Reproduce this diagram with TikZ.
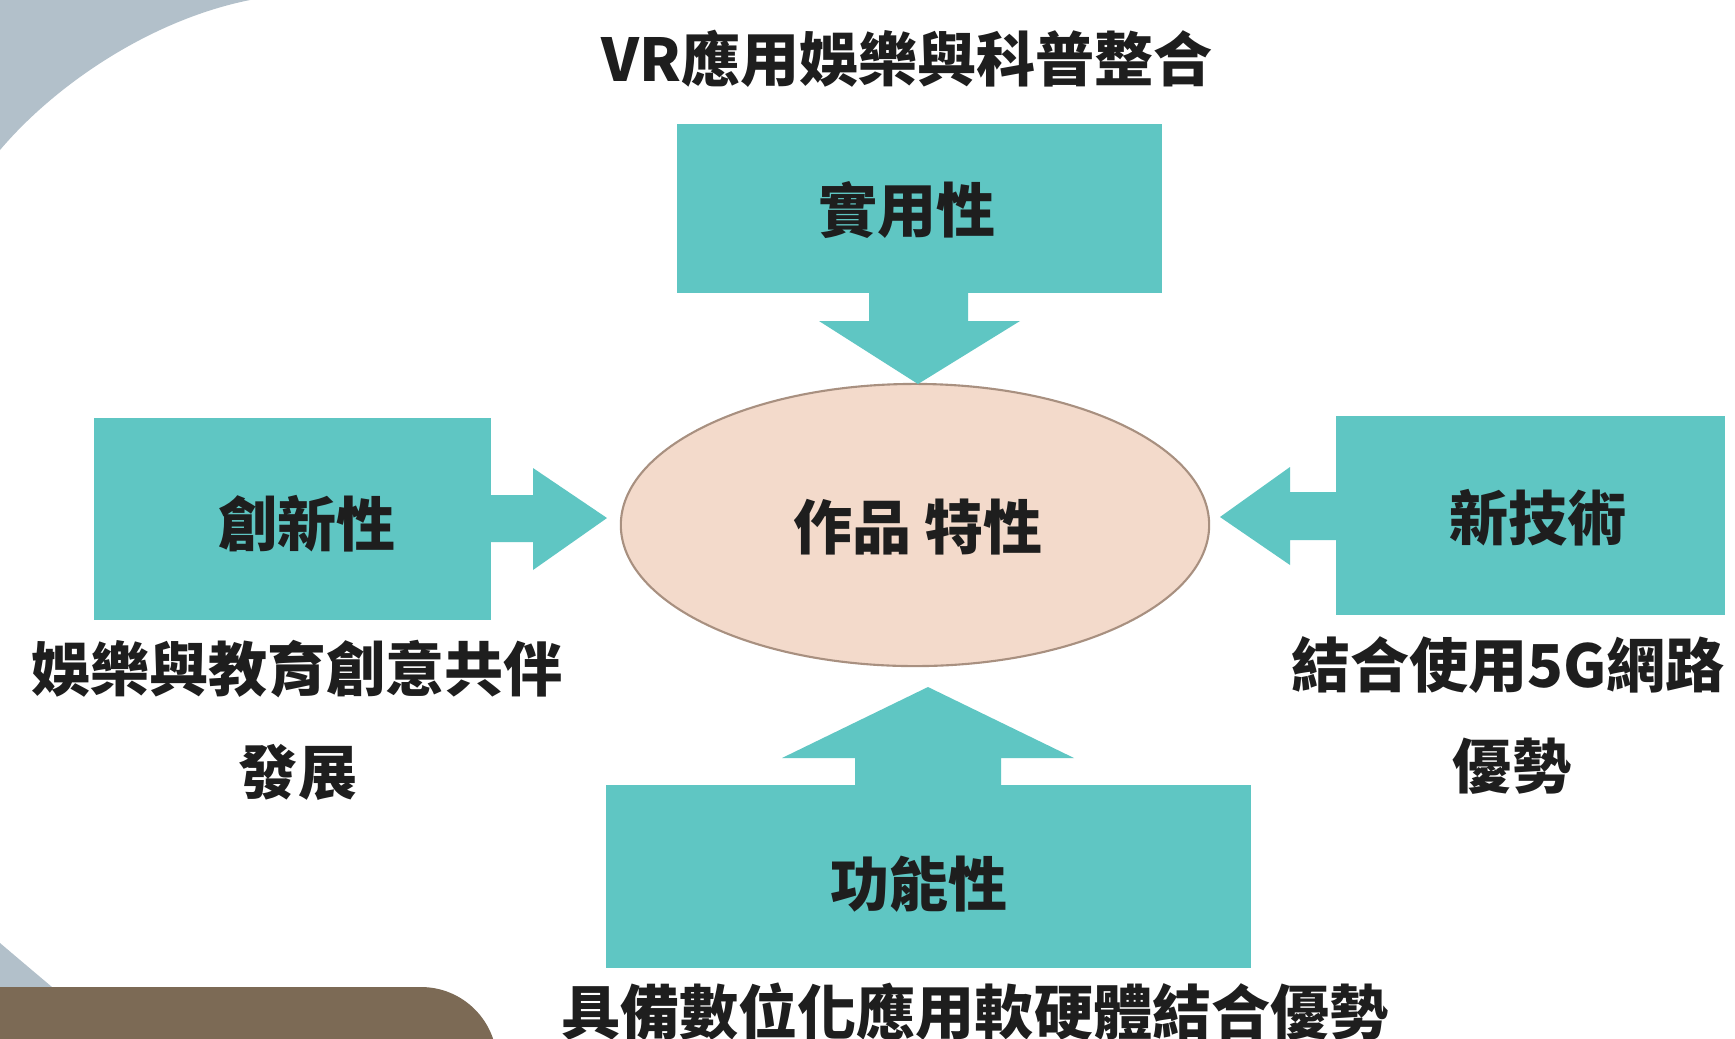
\documentclass[tikz,border=0pt]{standalone}
\usepackage{fontspec}
\setmainfont{Noto Sans CJK TC}
\usetikzlibrary{shapes.geometric}
\definecolor{tealbox}{HTML}{5FC6C3}
\definecolor{bluegray}{HTML}{B2C0CA}
\definecolor{brownc}{HTML}{7C6A55}
\definecolor{peach}{HTML}{F3DACB}
\definecolor{ellline}{HTML}{A89080}
\definecolor{txt}{HTML}{1E1E1E}
\tikzset{
  lbl/.style={font=\fontsize{16.8}{20}\selectfont\bfseries, text=txt, inner sep=0pt},
  tbox/.style={fill=tealbox, draw=none, inner sep=0pt},
  barrow/.style={fill=tealbox, draw=none},
}
\begin{document}
\begin{tikzpicture}[x=0.01cm, y=-0.01cm]
\useasboundingbox (0,0) rectangle (1735,1038);
\fill[white] (0,0) rectangle (1735,1038);
% background decorations
\fill[bluegray] (0,0) -- (250,0) .. controls (150,20) and (55,85) .. (0,150) -- cycle;
\fill[bluegray] (0,943) .. controls (20,960) .. (52,987) -- (0,987) -- cycle;
\fill[brownc] (0,1060) -- (0,987) -- (421,987) arc[start angle=90, end angle=0, radius=0.76cm] -- (0,1063) -- cycle;

% title
\node[lbl] (title) at (907,59) {VR應用娛樂與科普整合};

% central ellipse
\node[ellipse, fill=peach, draw=ellline, line width=0.6pt, minimum width=5.88cm, minimum height=2.82cm, inner sep=0pt] (core) at (915,525) {};
\node[lbl] (coret) at (918,527) {作品 特性};

% boxes
\node[tbox, minimum width=4.85cm, minimum height=1.69cm] (top) at (919.5,208.5) {};
\node[tbox, minimum width=3.97cm, minimum height=2.02cm] (left) at (292.5,519) {};
\node[tbox, minimum width=3.89cm, minimum height=1.99cm] (right) at (1530.5,515.5) {};
\node[tbox, minimum width=6.45cm, minimum height=1.83cm] (bottom) at (928.5,876.5) {};
\node[lbl] (topt) at (907,210) {實用性};
\node[lbl] (leftt) at (307,524) {創新性};
\node[lbl] (rightt) at (1538,518) {新技術};
\node[lbl] (bottomt) at (919,884) {功能性};

% block arrows
\fill[barrow] (869,290) -- (869,321) -- (819,321) -- (918,384) -- (1020,321) -- (968,321) -- (968,290) -- cycle;
\fill[barrow] (488,495) -- (533,495) -- (533,468) -- (607,518) -- (533,570) -- (533,542) -- (488,542) -- cycle;
\fill[barrow] (1339,492) -- (1290,492) -- (1290,467) -- (1220,517) -- (1290,565) -- (1290,540) -- (1339,540) -- cycle;
\fill[barrow] (855,788) -- (855,758) -- (782,758) -- (928,687) -- (1074,758) -- (1001,758) -- (1001,788) -- cycle;

% captions
\node[lbl] (lt1) at (297,669) {娛樂與教育創意共伴};
\node[lbl] (lt2) at (298,772) {發展};
\node[lbl] (rt1) at (1508,665) {結合使用5G網路};
\node[lbl] (rt2) at (1512,766) {優勢};
\node[lbl] (bt) at (975,1012) {具備數位化應用軟硬體結合優勢};
\end{tikzpicture}
\end{document}
